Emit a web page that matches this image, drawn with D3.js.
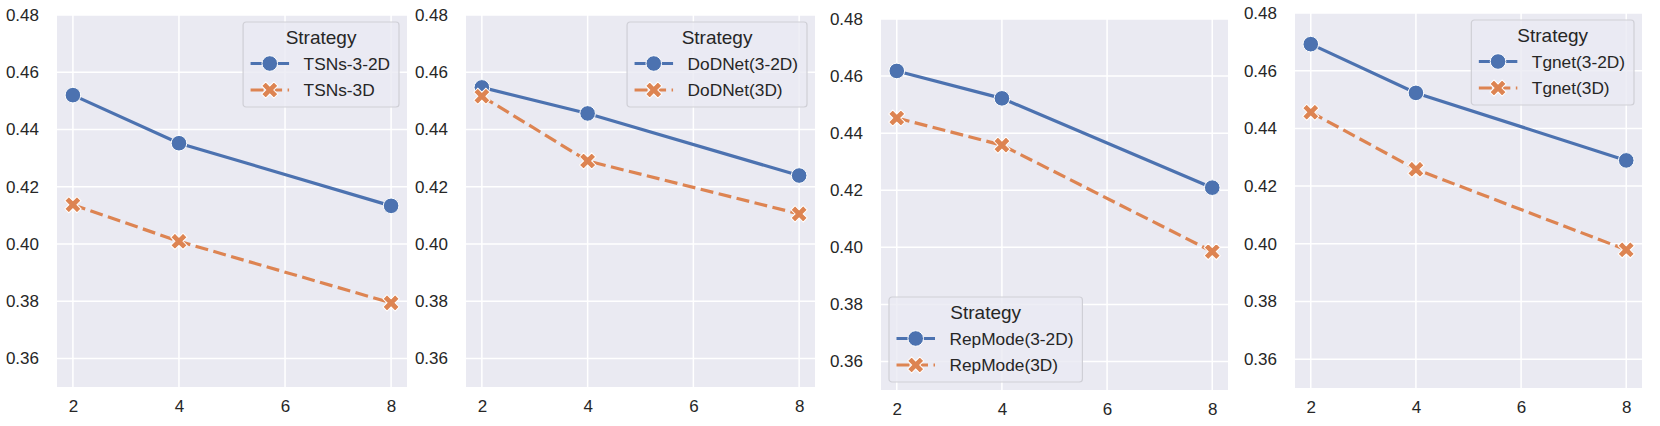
<!DOCTYPE html>
<html>
<head>
<meta charset="utf-8">
<script src="https://cdn.jsdelivr.net/npm/d3@7"></script>
<style>
  body { margin: 0; background: #fff; }
  text { font-family: "Liberation Sans", Arial, sans-serif; fill: #262626; }
</style>
</head>
<body>
<div id="chart"></div>
<script>
const xValues = [2, 4, 8];
const xTicks = [2, 4, 6, 8];
const yTicks = [0.36, 0.38, 0.40, 0.42, 0.44, 0.46, 0.48];
const legendTitle = 'Strategy';

const seriesNames = [
  ['TSNs-3-2D', 'TSNs-3D'],
  ['DoDNet(3-2D)', 'DoDNet(3D)'],
  ['RepMode(3-2D)', 'RepMode(3D)'],
  ['Tgnet(3-2D)', 'Tgnet(3D)']
];
const values2D = [
  [0.452, 0.4352, 0.4133],
  [0.4547, 0.4456, 0.4239],
  [0.4618, 0.4522, 0.4209],
  [0.4692, 0.4523, 0.4289]
];
const values3D = [
  [0.4137, 0.4009, 0.3794],
  [0.4516, 0.429, 0.4105],
  [0.4453, 0.4358, 0.3985],
  [0.4456, 0.4258, 0.3979]
];

const width = 1660, height = 426;
const colors = ['#4C72B0', '#DD8452'];

// panel boxes in page pixels
const panels = [
  { left: 57, right: 407, top: 15, bottom: 387, legend: 'tr' },
  { left: 466, right: 815, top: 15, bottom: 387, legend: 'tr' },
  { left: 881, right: 1228, top: 19, bottom: 390, legend: 'bl' },
  { left: 1295, right: 1642, top: 13, bottom: 388, legend: 'tr' }
];

const svg = d3.select('#chart').append('svg')
  .attr('width', width).attr('height', height);

const xSym = d3.symbol().type(d3.symbolCross).size(165);

const drawMarker = (g, k, x, y) => {
  if (k === 0) {
    g.append('circle').attr('cx', x).attr('cy', y).attr('r', 7.8)
      .attr('fill', colors[0]).attr('stroke', '#fff').attr('stroke-width', 1);
  } else {
    g.append('path').attr('d', xSym)
      .attr('transform', `translate(${x},${y}) rotate(45)`)
      .attr('fill', colors[1]).attr('stroke', '#fff').attr('stroke-width', 1);
  }
};

panels.forEach((p, i) => {
  const g = svg.append('g');
  const x = d3.scaleLinear().domain([1.7, 8.3]).range([p.left, p.right]);
  const y = d3.scaleLinear().domain([0.35, 0.48]).range([p.bottom, p.top]);

  g.append('rect').attr('x', p.left).attr('y', p.top)
    .attr('width', p.right - p.left).attr('height', p.bottom - p.top)
    .attr('fill', '#EAEAF2');

  g.selectAll('.gx').data(xTicks).enter().append('line')
    .attr('x1', d => x(d)).attr('x2', d => x(d))
    .attr('y1', p.top).attr('y2', p.bottom)
    .attr('stroke', '#fff').attr('stroke-width', 1.5);
  g.selectAll('.gy').data(yTicks).enter().append('line')
    .attr('x1', p.left).attr('x2', p.right)
    .attr('y1', d => y(d)).attr('y2', d => y(d))
    .attr('stroke', '#fff').attr('stroke-width', 1.5);

  const xAxis = g.append('g').attr('transform', `translate(0,${p.bottom})`)
    .call(d3.axisBottom(x).tickValues(xTicks).tickFormat(d3.format('d')).tickSize(0).tickPadding(13));
  const yAxis = g.append('g').attr('transform', `translate(${p.left},0)`)
    .call(d3.axisLeft(y).tickValues(yTicks).tickFormat(d3.format('.2f')).tickSize(0).tickPadding(18));
  [xAxis, yAxis].forEach(a => {
    a.select('.domain').remove();
    a.selectAll('text').attr('font-size', 17).attr('fill', '#262626');
  });

  const line = d3.line().x((d, j) => x(xValues[j])).y(d => y(d));
  [values2D[i], values3D[i]].forEach((vals, k) => {
    g.append('path').attr('d', line(vals)).attr('fill', 'none')
      .attr('stroke', colors[k]).attr('stroke-width', 3.2)
      .attr('stroke-dasharray', k === 1 ? '13,5.5' : null);
    vals.forEach((v, j) => drawMarker(g, k, x(xValues[j]), y(v)));
  });

  // legend
  const lg = g.append('g');
  const box = lg.append('rect');
  lg.append('text').attr('class', 'lt').text(legendTitle)
    .attr('font-size', 19).attr('text-anchor', 'middle').attr('y', 15.5).attr('dy', '0.35em');
  let maxW = 0;
  seriesNames[i].forEach((name, k) => {
    const cy = 41.5 + k * 26.5;
    lg.append('line').attr('x1', 7.5).attr('x2', 46).attr('y1', cy).attr('y2', cy)
      .attr('stroke', colors[k]).attr('stroke-width', 3.2)
      .attr('stroke-dasharray', k === 1 ? '13,5.5' : null);
    drawMarker(lg, k, 26.7, cy);
    const t = lg.append('text').text(name).attr('font-size', 17.3)
      .attr('x', 60.5).attr('y', cy).attr('dy', '0.35em');
    maxW = Math.max(maxW, t.node().getComputedTextLength());
  });
  const bw = 60.5 + maxW + 9, bh = 85;
  box.attr('width', bw).attr('height', bh).attr('rx', 3)
    .attr('fill', '#EAEAF2').attr('fill-opacity', 0.8)
    .attr('stroke', '#CFCFD6').attr('stroke-width', 1.2);
  lg.select('.lt').attr('x', bw / 2);
  const lx = p.legend === 'tr' ? p.right - 8 - bw : p.left + 8;
  const ly = p.legend === 'tr' ? p.top + 7 : p.bottom - 8 - bh;
  lg.attr('transform', `translate(${lx},${ly})`);
});
</script>
</body>
</html>
